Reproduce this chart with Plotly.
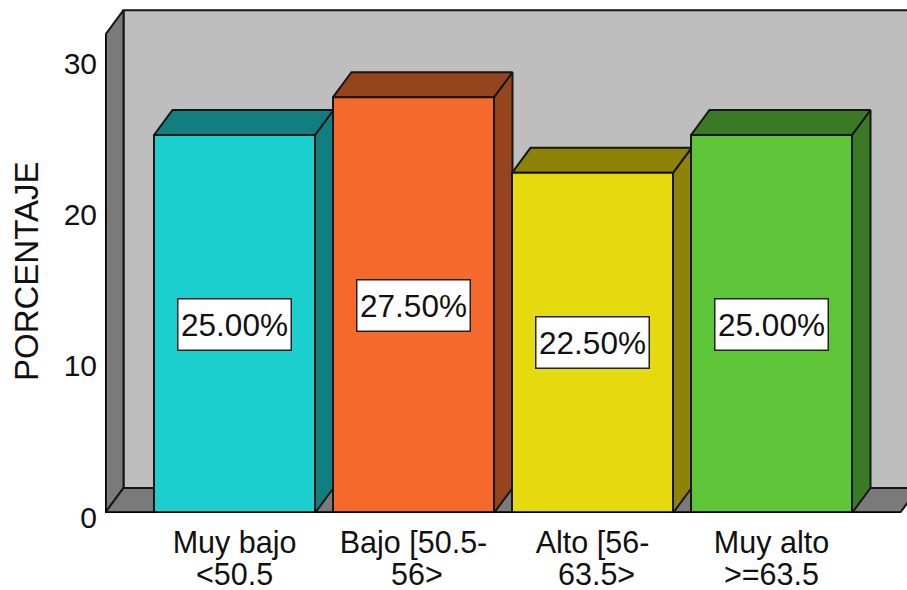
import plotly.graph_objects as go

categories = ["Muy bajo <50.5", "Bajo [50.5-56>", "Alto [56-63.5>", "Muy alto >=63.5"]
label_line1 = ["Muy bajo", "Bajo [50.5-", "Alto [56-", "Muy alto"]
label_line2 = ["<50.5", "56>", "63.5>", ">=63.5"]
values = [25.0, 27.5, 22.5, 25.0]
value_labels = ["25.00%", "27.50%", "22.50%", "25.00%"]
front_colors = ["#1CCFCF", "#F5692A", "#E5DA0E", "#5EC538"]
dark_colors = ["#117F7F", "#96441E", "#8C8308", "#3A7A25"]
y_ticks = [0, 10, 20, 30]
y_title = "PORCENTAJE"

W, H = 907, 590
ML, MB = 105, 77
STEP_PX = 179.0
CENTER0_PX = 234.5
PX_PER_UNIT = 15.12
X0 = (ML - CENTER0_PX) / STEP_PX
X1 = (W - CENTER0_PX) / STEP_PX
Y1 = (H - MB) / PX_PER_UNIT
DX = 18.5 / STEP_PX
DY = 25.0 / PX_PER_UNIT
HALF = 80.5 / STEP_PX
WALL_TOP = 31.6
FLOOR_END = (900 - CENTER0_PX) / STEP_PX
EDGE = "#161616"

fig = go.Figure()


def poly(xs, ys, fill, width=2, color=EDGE):
    fig.add_trace(go.Scatter(
        x=xs, y=ys, mode="lines", fill="toself", fillcolor=fill,
        line=dict(color=color, width=width), hoverinfo="skip",
        showlegend=False, cliponaxis=False))


# back wall, left wall, floor
poly([X0 + DX, FLOOR_END + DX, FLOOR_END + DX, X0 + DX, X0 + DX],
     [DY, DY, WALL_TOP + DY, WALL_TOP + DY, DY], "#BEBEBE")
poly([X0, X0 + DX, X0 + DX, X0, X0],
     [0, DY, WALL_TOP + DY, WALL_TOP, 0], "#7A7A7A")
poly([X0, FLOOR_END, FLOOR_END + DX, X0 + DX, X0],
     [0, 0, DY, DY, 0], "#7A7A7A")

# bars
for i, v in enumerate(values):
    l, r = i - HALF, i + HALF
    poly([r, r + DX, r + DX, r, r], [0, DY, v + DY, v, 0], dark_colors[i])
    poly([l, r, r + DX, l + DX, l], [v, v, v + DY, v + DY, v], dark_colors[i])
    poly([l, r, r, l, l], [0, 0, v, v, 0], front_colors[i])

# heavy front edges
fig.add_trace(go.Scatter(
    x=[X0, X0, FLOOR_END], y=[WALL_TOP, 0, 0], mode="lines",
    line=dict(color="#000000", width=3.5), hoverinfo="skip",
    showlegend=False, cliponaxis=False))

annotations = []
for i, v in enumerate(values):
    annotations.append(dict(
        x=i, y=v / 2, xref="x", yref="y", text=value_labels[i], showarrow=False,
        font=dict(family="Liberation Sans", size=31.5, color="#111111"),
        bgcolor="#FFFFFF", bordercolor="#222222", borderwidth=1.5,
        width=110, height=48, align="center", valign="middle"))
    annotations.append(dict(
        x=i, y=0, xref="x", yref="y", yshift=-61, yanchor="middle",
        xshift=[0, 3, 4, 0][i], text=label_line2[i], showarrow=False,
        font=dict(family="Liberation Sans", size=30.5, color="#111111")))
annotations.append(dict(
    x=(26 - ML) / (W - ML), y=(H - MB - 272) / (H - MB), xref="paper", yref="paper",
    xanchor="center", yanchor="middle",
    text=y_title, showarrow=False, textangle=-90,
    font=dict(family="Liberation Sans", size=33, color="#111111")))

fig.update_layout(
    width=W, height=H, paper_bgcolor="#FFFFFF", plot_bgcolor="#FFFFFF",
    margin=dict(l=ML, r=0, t=0, b=MB, pad=0), showlegend=False,
    xaxis=dict(range=[X0, X1], tickvals=list(range(len(categories))),
               ticktext=label_line1, showgrid=False, zeroline=False,
               showline=False, ticks="", ticklabelstandoff=8,
               tickfont=dict(family="Liberation Sans", size=30.5, color="#111111")),
    yaxis=dict(range=[0, Y1], tickvals=y_ticks, showgrid=False, zeroline=False,
               showline=False, ticks="", ticklabelstandoff=7, ticklabelshift=4,
               tickfont=dict(family="Liberation Sans", size=30, color="#111111")),
    annotations=annotations,
)

fig.write_html("out.html", config={"displayModeBar": False},
               post_script="document.body.style.margin='0';")
